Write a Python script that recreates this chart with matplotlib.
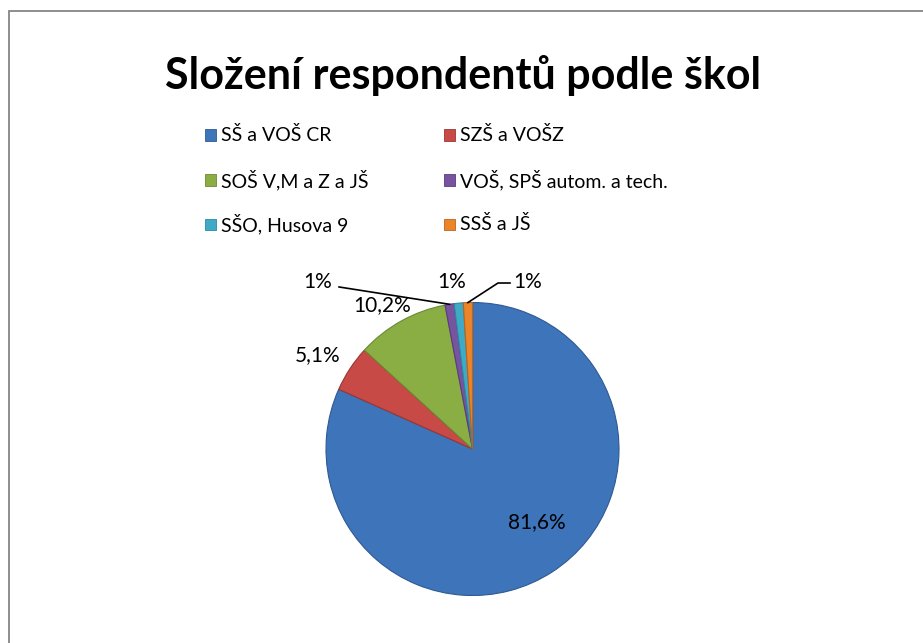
import matplotlib
matplotlib.use("Agg")
import matplotlib.pyplot as plt
from matplotlib.patches import Rectangle
import numpy as np

# ---- data ----
categories = ["SŠ a VOŠ CR", "SZŠ a VOŠZ", "SOŠ V,M a Z a JŠ",
              "VOŠ, SPŠ autom. a tech.", "SŠO, Husova 9", "SSŠ a JŠ"]
values = [81.6, 5.1, 10.2, 1.0, 1.0, 1.0]
value_labels = ["81,6%", "5,1%", "10,2%", "1%", "1%", "1%"]
title = "Složení respondentů podle škol"

# ---- style ----
colors = ["#3E74BA", "#C84A46", "#8AAE44", "#7853A0", "#3EAAC6", "#EC8428"]
edges = ["#2E5A92", "#9A3633", "#6A8A32", "#5A3C7E", "#2E88A0", "#B8641C"]
FONT = ["Lato", "DejaVu Sans"]

W, H = 923, 643
fig = plt.figure(figsize=(W / 100, H / 100), dpi=100)
fig.patch.set_facecolor("white")

# outer chart border
fig.add_artist(Rectangle((8.5 / W, -0.1), 1.2, 1 - 11.5 / H + 0.1,
                         transform=fig.transFigure, fill=False,
                         edgecolor="#868686", linewidth=1.3))

# title
fig.text(463 / W, 1 - 75 / H, title, ha="center", va="center",
         fontsize=31, fontweight="bold", family=FONT, color="black")

# legend (manual, 2 columns)
leg_x = [205, 444]
leg_y = [135, 180, 224]
msz = 11
for i, (cat, col) in enumerate(zip(categories, colors)):
    r, c = divmod(i, 2)
    x0 = leg_x[c]
    y0 = leg_y[r]
    fig.add_artist(Rectangle((x0 / W, 1 - (y0 + msz / 2) / H), msz / W, msz / H,
                             transform=fig.transFigure, facecolor=col,
                             edgecolor=edges[i], linewidth=0.6))
    fig.text((x0 + msz + 5) / W, 1 - y0 / H, cat, ha="left", va="center",
             fontsize=14, family=FONT, color="black")

# pie axes
cx, cy, R = 472.5, 449, 146.5
ax = fig.add_axes([(cx - R) / W, (H - cy - R) / H, 2 * R / W, 2 * R / H])
wedges, _ = ax.pie(values, colors=colors, startangle=90, counterclock=False,
                   wedgeprops=dict(linewidth=0.8))
for w, e in zip(wedges, edges):
    w.set_edgecolor(e)
ax.set_xlim(-1, 1)
ax.set_ylim(-1, 1)
ax.set_aspect("equal")
ax.axis("off")

# label layout (axes data units)
label_pos = [(0.44, -0.50), (-1.055, 0.642), (-0.618, 0.983),
             (-1.055, 1.14), (-0.14, 1.14), (0.379, 1.14)]
for txt, (lx, ly) in zip(value_labels, label_pos):
    ax.text(lx, ly, txt, ha="center", va="center", fontsize=15,
            family=FONT, color="black", clip_on=False)

def edge_point(w):
    th = np.deg2rad((w.theta1 + w.theta2) / 2)
    return np.cos(th) * w.r, np.sin(th) * w.r

# leader lines
px, py = edge_point(wedges[3])
ax.plot([-0.911, px], [1.106, py], color="black", lw=1.2, clip_on=False)
ox, oy = edge_point(wedges[5])
ax.plot([0.256, 0.174, ox], [1.133, 1.133, oy], color="black", lw=1.2,
        clip_on=False)

fig.savefig("out.png", dpi=100)
